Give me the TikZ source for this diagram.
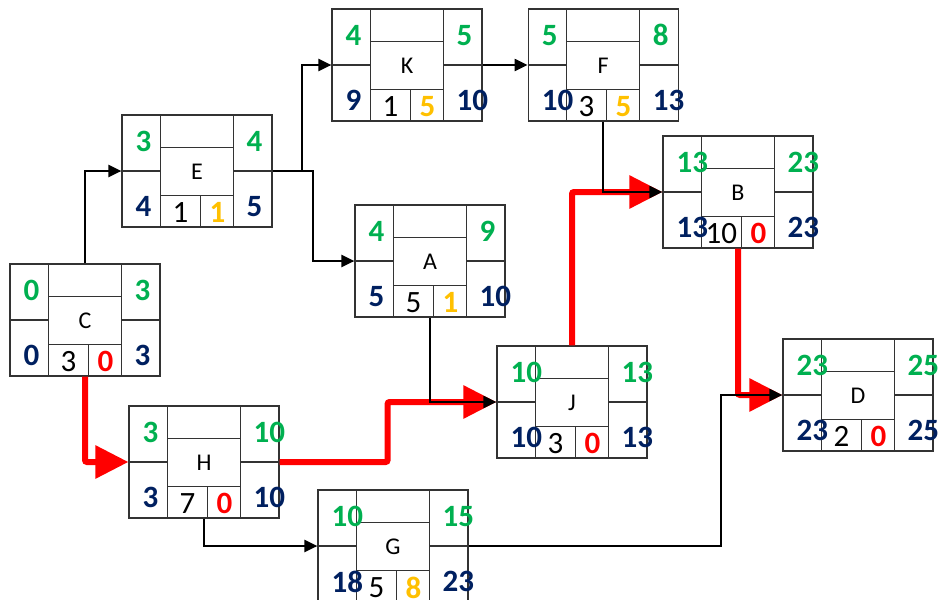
\documentclass[tikz,border=0pt]{standalone}
\usepackage{fontspec}
\setmainfont{Carlito}
\usetikzlibrary{arrows.meta, positioning}
\definecolor{esgreen}{HTML}{00B050}
\definecolor{lsblue}{HTML}{002060}
\definecolor{slackred}{HTML}{FF0000}
\definecolor{slackorange}{HTML}{FFC000}
% activity box: name, placement, ES, EF, LS, LF, duration, slack, slack colour
\newcommand{\activity}[9]{%
  \node[actbox, #2] (#1) {};
  \draw[cellline] ([xshift=39pt]#1.north west) -- ([xshift=39pt]#1.south west)
    ([xshift=-39pt]#1.north east) -- ([xshift=-39pt]#1.south east)
    (#1.west) -- ([xshift=39pt]#1.west)
    (#1.east) -- ([xshift=-39pt]#1.east)
    ([xshift=39pt,yshift=-33pt]#1.north west) -- ([xshift=-39pt,yshift=-33pt]#1.north east)
    ([xshift=39pt,yshift=32pt]#1.south west) -- ([xshift=-39pt,yshift=32pt]#1.south east)
    ([xshift=79pt,yshift=32pt]#1.south west) -- ([xshift=79pt]#1.south west);
  \node[num, text=esgreen, anchor=west] (#1-es) at ([xshift=14pt,yshift=-27pt]#1.north west) {#3};
  \node[num, text=esgreen, anchor=west] (#1-ef) at ([xshift=125pt,yshift=-27pt]#1.north west) {#4};
  \node[num, text=lsblue, anchor=west] (#1-ls) at ([xshift=14pt,yshift=21pt]#1.south west) {#5};
  \node[num, text=lsblue, anchor=west] (#1-lf) at ([xshift=125pt,yshift=21pt]#1.south west) {#6};
  \node[dur] (#1-dur) at ([xshift=59pt,yshift=15pt]#1.south west) {#7};
  \node[num, text=#9] (#1-sl) at ([xshift=96pt,yshift=15pt]#1.south west) {#8};
  \node[actname] (#1-name) at ([yshift=-1pt]#1.center) {#1};
}

\begin{document}
\begin{tikzpicture}[x=1pt, y=-1pt,
    actbox/.style={draw=black!80, line width=1.2pt, minimum width=150pt, minimum height=112pt, inner sep=0pt},
    cellline/.style={draw=black!80, line width=1.2pt},
    num/.style={font=\fontsize{31}{33}\selectfont\bfseries, inner sep=0pt},
    dur/.style={font=\fontsize{31}{33}\selectfont, inner sep=0pt},
    actname/.style={font=\fontsize{24}{26}\selectfont, inner sep=0pt},
    link/.style={line width=2.2pt, -{Triangle[length=13pt,width=12pt]}},
    crit/.style={line width=6pt, draw=slackred, rounded corners=2pt, -{Triangle[length=33pt,width=32pt]}}]
  \useasboundingbox (0,0) rectangle (938,600);

  \activity{C}{at={(85,320)}}{0}{3}{0}{3}{3}{0}{slackred}
  \activity{E}{at={(197,171)}}{3}{4}{4}{5}{1}{1}{slackorange}
  \activity{K}{at={(407,65)}}{4}{5}{9}{10}{1}{5}{slackorange}
  \activity{F}{right=45pt of K}{5}{8}{10}{13}{3}{5}{slackorange}
  \activity{A}{at={(430,261)}}{4}{9}{5}{10}{5}{1}{slackorange}
  \activity{H}{at={(204,462)}}{3}{10}{3}{10}{7}{0}{slackred}
  \activity{G}{at={(393,546)}}{10}{15}{18}{23}{5}{8}{slackorange}
  \activity{J}{at={(572,402)}}{10}{13}{10}{13}{3}{0}{slackred}
  \activity{B}{at={(738,192)}}{13}{23}{13}{23}{10}{0}{slackred}
  \activity{D}{at={(858,395)}}{23}{25}{23}{25}{2}{0}{slackred}

  % critical path
  \draw[crit] (C.south) |- (H.west);
  \draw[crit] (H.east) -- ++(108pt,0pt) |- (J.west);
  \draw[crit] (J.north) |- (B.west);
  \draw[crit] (B.south) |- (D.west);

  % other links
  \draw[link] (C.north) |- (E.west);
  \draw[link] (E.east) -- ++(29pt,0pt) |- (K.west);
  \draw[link] (E.east) -- ++(40pt,0pt) |- (A.west);
  \draw[link] (K.east) -- (F.west);
  \draw[link] (F.south) |- (B.west);
  \draw[link] (A.south) |- (J.west);
  \draw[link] (H.south) |- (G.west);
  \draw[link] (G.east) -- ++(252pt,0pt) |- (D.west);
\end{tikzpicture}
\end{document}
